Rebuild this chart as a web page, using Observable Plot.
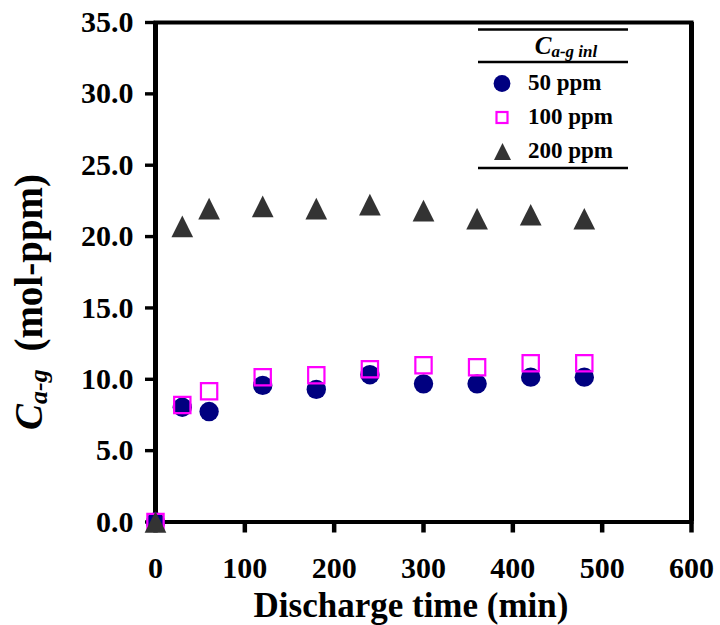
<!DOCTYPE html>
<html><head><meta charset="utf-8">
<script src="https://cdn.jsdelivr.net/npm/d3@7"></script>
<script src="https://cdn.jsdelivr.net/npm/@observablehq/plot@0.6"></script>
<style>
body{margin:0;background:#fff;}
#chart{position:relative;width:720px;height:625px;}
</style>
</head><body><div id="chart"></div>
<script>
// Discharge time (min)
const time = [0, 30, 60, 120, 180, 240, 300, 360, 420, 480];
// C_a-g (mol-ppm) for each inlet concentration
const c50  = [0, 8.04, 7.74, 9.57, 9.29, 10.32, 9.68, 9.68, 10.15, 10.15];
const c100 = [0, 8.2, 9.16, 10.14, 10.28, 10.7, 10.98, 10.84, 11.12, 11.12];
const c200 = [0, 20.72, 21.96, 22.11, 21.96, 22.24, 21.82, 21.25, 21.53, 21.25];
const seriesNames = ["50 ppm", "100 ppm", "200 ppm"];
const xTicks = [0, 100, 200, 300, 400, 500, 600];
const yTicks = [0, 5, 10, 15, 20, 25, 30, 35];
const xDomain = [0, 600];
const yDomain = [0, 35];

const rows = (vals) => time.map((t, i) => ({t, v: vals[i]}));
const FONT = "'Liberation Serif', 'Times New Roman', serif";

// triangle centred on its bounding box, equal width and height
const triangle = {draw(ctx, size) {
  const s = Math.sqrt(size) * 1.25;
  ctx.moveTo(0, -s / 2); ctx.lineTo(s / 2, s / 2); ctx.lineTo(-s / 2, s / 2); ctx.closePath();
}};

const plot = Plot.plot({
  width: 720, height: 625,
  marginLeft: 155, marginRight: 29, marginTop: 22, marginBottom: 103.5,
  x: {domain: xDomain},
  y: {domain: yDomain},
  style: {fontFamily: FONT, background: "white", color: "black"},
  marks: [
    Plot.frame({stroke: "black", strokeWidth: 4}),
    Plot.ruleX(xDomain, {stroke: "black", strokeWidth: 5}),
    Plot.axisX({ticks: xTicks, tickSize: 11, tickPadding: 24, stroke: "black", strokeWidth: 4.5, fontSize: 30, fontWeight: "bold", label: null, tickFormat: d => String(d)}),
    Plot.axisY({ticks: yTicks, tickSize: 10, tickPadding: 12, stroke: "black", strokeWidth: 3.4, fontSize: 30, fontWeight: "bold", label: null, tickFormat: d => d.toFixed(1)}),
    Plot.dot(rows(c50), {x: "t", y: "v", r: 9.7, fill: "#000080", stroke: "none"}),
    Plot.dot(rows(c100), {x: "t", y: "v", r: 9.2, symbol: "square", fill: "none", stroke: "#ff00ff", strokeWidth: 2.2}),
    Plot.dot(rows(c200), {x: "t", y: "v", r: 9.8, symbol: triangle, fill: "#333333", stroke: "none"})
  ]
});
document.getElementById("chart").appendChild(plot);

const svg = d3.select(plot);
const ns = svg.append("g").attr("font-family", FONT).attr("font-weight", "bold").attr("fill", "black")
  .attr("text-anchor", "start");

// x-axis title
ns.append("text").attr("x", 411).attr("y", 617).attr("text-anchor", "middle")
  .attr("font-size", 35).text("Discharge time (min)");

// y-axis title
const yt = ns.append("text").attr("transform", "translate(42,302) rotate(-90)")
  .attr("text-anchor", "middle").attr("font-size", 39);
yt.append("tspan").attr("font-style", "italic").text("C");
yt.append("tspan").attr("font-style", "italic").attr("font-size", 26).attr("dy", 5).text("a-g");
yt.append("tspan").attr("dy", -5).attr("dx", 8).text("\u00a0(mol-ppm)");

// legend
const lg = ns.append("g").attr("text-anchor", "start");
[29.5, 62, 168].forEach(y => lg.append("line").attr("x1", 478).attr("x2", 628).attr("y1", y).attr("y2", y)
  .attr("stroke", "black").attr("stroke-width", 2.6));
const hd = lg.append("text").attr("x", 566).attr("y", 53.5).attr("text-anchor", "middle").attr("font-size", 25);
hd.append("tspan").attr("font-style", "italic").text("C");
hd.append("tspan").attr("font-style", "italic").attr("font-size", 17).attr("dy", 3).text("a-g inl");

lg.append("circle").attr("cx", 502).attr("cy", 83.5).attr("r", 8.4).attr("fill", "#000080");
lg.append("rect").attr("x", 496.5).attr("y", 112).attr("width", 11).attr("height", 11)
  .attr("fill", "none").attr("stroke", "#ff00ff").attr("stroke-width", 2.2);
lg.append("path").attr("d", "M502.5,143L511,160L494,160Z").attr("fill", "#333333");
const legendY = [90, 124, 158];
seriesNames.forEach((name, i) => lg.append("text").attr("x", 528).attr("y", legendY[i])
  .attr("text-anchor", "start").attr("font-size", 23).text(name));
</script>
</body></html>
